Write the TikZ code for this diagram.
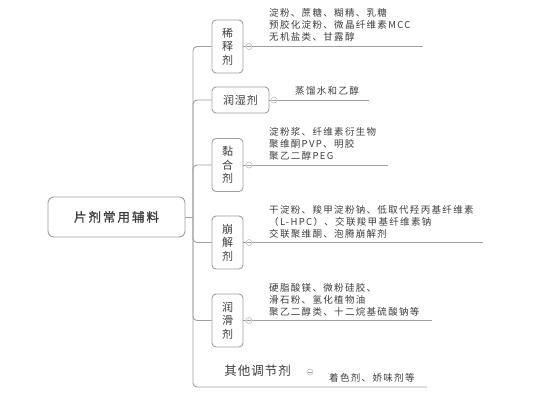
\documentclass[tikz,border=0pt]{standalone}
\usepackage{fontspec}
\setmainfont{Noto Sans CJK SC}
\newfontfamily\detailfont[LetterSpace=14]{Noto Sans CJK SC}
\newfontfamily\kindfont[LetterSpace=8]{Noto Sans CJK SC}
\newfontfamily\rootfont[LetterSpace=16,FakeBold=1.2]{Noto Sans CJK SC}

\definecolor{linegray}{HTML}{A0A0A0}
\definecolor{textgray}{HTML}{3C3C3C}

\tikzset{
	rootbox/.style={draw=linegray, line width=0.9pt, rounded corners=6pt, minimum width=137pt, minimum height=40pt, inner sep=0pt, text=textgray, font=\rootfont\fontsize{12.5}{14}\selectfont},
	kind/.style={draw=linegray, line width=0.9pt, rounded corners=4pt, minimum width=31pt, minimum height=53pt, inner sep=0pt, align=center, text=textgray, font=\kindfont\fontsize{11}{13.5}\selectfont},
	widekind/.style={kind, minimum width=57pt, minimum height=26pt},
	plainkind/.style={inner sep=0pt, text=textgray, font=\kindfont\fontsize{12.5}{14}\selectfont},
	detail/.style={anchor=west, inner sep=0pt, align=left, text=textgray, font=\detailfont\fontsize{9.5}{12}\selectfont},
	branch/.style={draw=linegray, line width=0.9pt, rounded corners=4pt},
	knob/.style={circle, draw=linegray!70, line width=0.6pt, minimum size=6pt, inner sep=0pt,
		path picture={\draw[linegray, line width=0.5pt] ([xshift=-1.6pt]path picture bounding box.center) -- ([xshift=1.6pt]path picture bounding box.center);}}
}

\begin{document}
\begin{tikzpicture}[x=1pt, y=-1pt]
	\useasboundingbox (0,0) rectangle (549,400);

	% root and trunk
	\node[rootbox] (root) at (116.5,217) {片剂常用辅料};
	\coordinate (trunk) at (193,217);

	% kinds
	\node[kind] (xishi) at (227.5,46.5) {稀\\释\\剂};
	\node[widekind] (runshi) at (240.5,100) {润湿剂};
	\node[kind] (nianhe) at (227.5,165) {黏\\合\\剂};
	\node[kind] (bengjie) at (227.5,242.5) {崩\\解\\剂};
	\node[kind] (runhua) at (227.5,320.5) {润\\滑\\剂};
	\node[plainkind] (qita) at (257.5,371) {其他调节剂};

	\draw[branch] (root.east) -- (trunk);
	\foreach \k in {xishi, runshi, nianhe, bengjie, runhua}
		\draw[branch] (trunk) |- (\k.west);
	\coordinate (qita-end) at (427,387);
	\draw[branch] (trunk) |- (qita-end);

	% knobs and detail lines
	\node[knob] (xishi-k) at (249,46.5) {};
	\node[knob] (runshi-k) at (274,100) {};
	\node[knob] (nianhe-k) at (249,165) {};
	\node[knob] (bengjie-k) at (249,242.5) {};
	\node[knob] (runhua-k) at (249,320.5) {};
	\node[knob] (qita-k) at (310,372) {};

	\coordinate (xishi-end) at (423,46.5);
	\coordinate (runshi-end) at (369,100);
	\coordinate (nianhe-end) at (388,165);
	\coordinate (bengjie-end) at (483,242.5);
	\coordinate (runhua-end) at (432,320.5);

	\foreach \k in {xishi, runshi, nianhe, bengjie, runhua} {
		\draw[branch] (\k.east) -- (\k-k);
		\draw[branch] (\k-k) -- (\k-end);
	}

	% details
	\node[detail] (xishi-t) at (269,25) {淀粉、蔗糖、糊精、乳糖\\预胶化淀粉、微晶纤维素MCC\\无机盐类、甘露醇};
	\node[detail] (runshi-t) at (295,91) {蒸馏水和乙醇};
	\node[detail] (nianhe-t) at (269,144) {淀粉浆、纤维素衍生物\\聚维酮PVP、明胶\\聚乙二醇PEG};
	\node[detail] (bengjie-t) at (269,222) {干淀粉、羧甲淀粉钠、低取代羟丙基纤维素\\（L-HPC）、交联羧甲基纤维素钠\\交联聚维酮、泡腾崩解剂};
	\node[detail] (runhua-t) at (269,300) {硬脂酸镁、微粉硅胶、\\滑石粉、氢化植物油\\聚乙二醇类、十二烷基硫酸钠等};
	\node[detail] (qita-t) at (329,378) {着色剂、娇味剂等};
\end{tikzpicture}
\end{document}
